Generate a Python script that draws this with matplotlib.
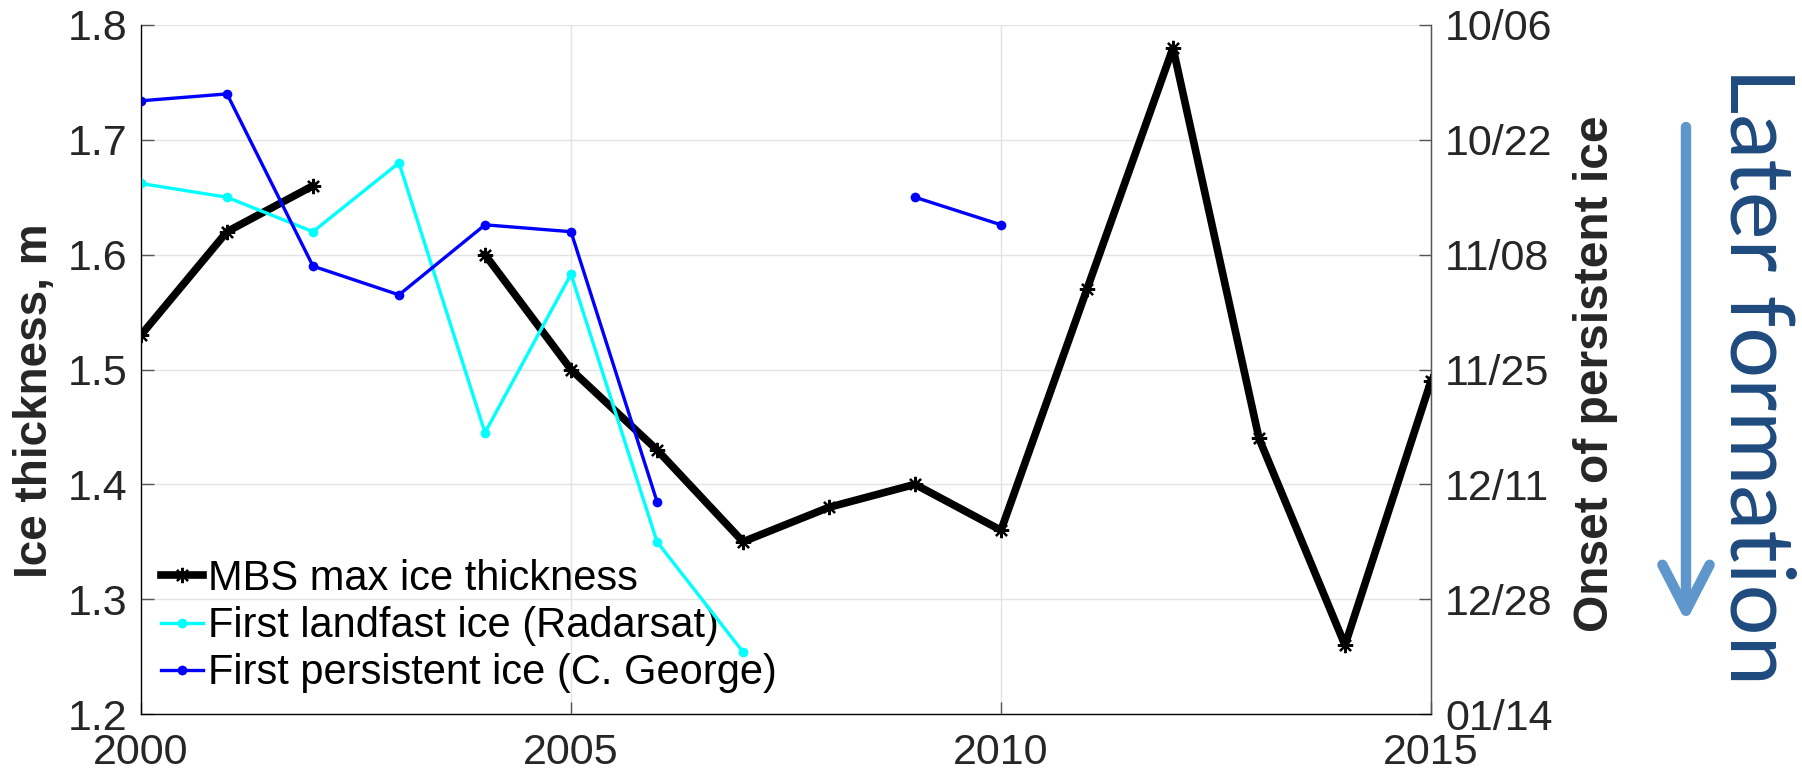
import numpy as np
import matplotlib.pyplot as plt
from matplotlib.patches import FancyArrowPatch

# ---- data ----
years = np.arange(2000, 2016)
mbs_thickness = [1.53, 1.62, 1.66, np.nan, 1.60, 1.50, 1.43, 1.35,
                 1.38, 1.40, 1.36, 1.57, 1.78, 1.44, 1.26, 1.49]

radarsat_years = np.arange(2000, 2008)
radarsat_onset = [1.662, 1.65, 1.62, 1.68, 1.445, 1.583, 1.35, 1.254]

george_years = np.arange(2000, 2011)
george_onset = [1.734, 1.74, 1.59, 1.565, 1.626, 1.62, 1.385, np.nan,
                np.nan, 1.65, 1.626]

left_ticks = [1.2, 1.3, 1.4, 1.5, 1.6, 1.7, 1.8]
date_labels = ['01/14', '12/28', '12/11', '11/25', '11/08', '10/22', '10/06']
x_ticks = [2000, 2005, 2010, 2015]

labels = ['MBS max ice thickness', 'First landfast ice (Radarsat)',
          'First persistent ice (C. George)']

plt.rcParams['font.family'] = ['Liberation Sans', 'DejaVu Sans']
txt_gray = '#262626'
asterisk = (8, 2, 0)

fig = plt.figure(figsize=(18.02, 7.75), dpi=100)
ax = fig.add_axes([141 / 1802, 61 / 775, 1290 / 1802, 689 / 775])

ax.plot(years, mbs_thickness, color='black', lw=5.5, marker=asterisk,
        ms=11, mew=1.6, label=labels[0], zorder=3)
ax.plot(radarsat_years, radarsat_onset, color='cyan', lw=2.4, marker='o',
        ms=7, mew=0, label=labels[1], zorder=4)
ax.plot(george_years, george_onset, color='blue', lw=2.4, marker='o',
        ms=7, mew=0, label=labels[2], zorder=4)

ax.set_xlim(2000, 2015)
ax.set_ylim(1.2, 1.8)
ax.set_xticks(x_ticks)
ax.set_yticks(left_ticks)
ax.grid(True, color='#e3e3e3', lw=1)
ax.set_axisbelow(True)
ax.spines['top'].set_visible(False)
for s in ['left', 'bottom', 'right']:
    ax.spines[s].set_color('#555555')
    ax.spines[s].set_linewidth(1)
ax.tick_params(axis='both', direction='in', length=9, width=1,
               color='#555555', labelsize=31, labelcolor=txt_gray)
ax.tick_params(axis='y', pad=10)
ax.tick_params(axis='x', pad=14)

ax2 = ax.twinx()
ax2.set_ylim(1.2, 1.8)
ax2.set_yticks(left_ticks)
ax2.set_yticklabels(date_labels)
ax2.spines['top'].set_visible(False)
ax2.spines['right'].set_color('#555555')
ax2.tick_params(axis='y', direction='in', length=9, width=1,
                color='#555555', labelsize=31, labelcolor=txt_gray, pad=10)

leg = ax.legend(loc='upper left', bbox_to_anchor=(161 / 1802, 1 - 559 / 775),
                bbox_transform=fig.transFigure, frameon=False, fontsize=30,
                handlelength=1.0, handletextpad=0.12, labelspacing=0.17,
                borderpad=0, borderaxespad=0)
leg.set_zorder(2)

fig.text(35 / 1802, 1 - 401 / 775, 'Ice thickness, m', rotation=90,
         fontsize=33, fontweight='bold', color=txt_gray,
         ha='center', va='center')
fig.text(1595 / 1802, 1 - 374 / 775, 'Onset of persistent ice', rotation=90,
         fontsize=34.5, fontweight='bold', color=txt_gray,
         ha='center', va='center')

fig.text(1755 / 1802, 1 - 376 / 775, 'Later formation', rotation=-90,
         fontsize=65, family=['Lato', 'DejaVu Sans'], color='#1f4a7e',
         ha='center', va='center')

arrow = FancyArrowPatch((1686 / 1802, 1 - 127 / 775), (1686 / 1802, 1 - 622 / 775),
                        transform=fig.transFigure,
                        arrowstyle='->,head_length=3.3,head_width=1.7',
                        mutation_scale=10, lw=7.5, color='#5f96cc',
                        shrinkA=0, shrinkB=0,
                        capstyle='round', joinstyle='round')
fig.patches.append(arrow)

fig.savefig('out.png', dpi=100)
